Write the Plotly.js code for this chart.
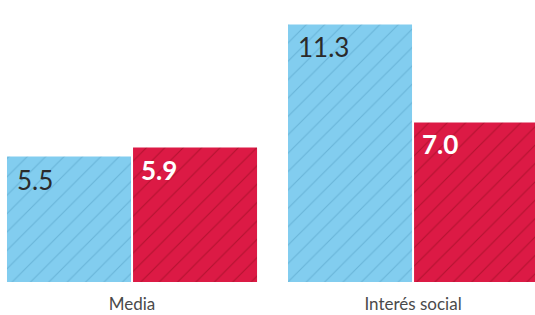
<!DOCTYPE html>
<html>
<head>
<meta charset="utf-8">
<script src="https://cdn.plot.ly/plotly-3.0.1.min.js"></script>
<style>html,body{margin:0;padding:0;background:#fff}#chart{width:535px;height:315px}</style>
</head>
<body>
<div id="chart"></div>
<script>
const categories = ["Media", "Interés social"];
const seriesA = [5.5, 11.3];
const seriesB = [5.9, 7.0];
const labelsA = ["5.5", "11.3"];
const labelsB = ["5.9", "7.0"];

const blue = "#82cdef", blueLine = "#68b4d8";
const red = "#dc1a45", redLine = "#b3122f";
const bargap = 0.103;
const groupW = 1 - bargap;

const traces = [
  {type: "bar", x: categories, y: seriesA, name: "A",
   marker: {color: blue, line: {width: 0},
     pattern: {shape: "/", fgcolor: blueLine, bgcolor: blue, size: 13, solidity: 0.08}},
   hoverinfo: "none"},
  {type: "bar", x: categories, y: seriesB, name: "B",
   marker: {color: red, line: {width: 0},
     pattern: {shape: "/", fgcolor: redLine, bgcolor: red, size: 13, solidity: 0.08}},
   hoverinfo: "none"}
];

const annotations = [];
categories.forEach((c, i) => {
  annotations.push({x: i - groupW / 2, y: seriesA[i], xref: "x", yref: "y",
    text: labelsA[i], showarrow: false, xanchor: "left", yanchor: "top",
    xshift: 9, yshift: -5,
    font: {family: "Lato, 'Open Sans', sans-serif", size: 26, weight: 400, color: "#2a2a2a"}});
  annotations.push({x: i, y: seriesB[i], xref: "x", yref: "y",
    text: labelsB[i], showarrow: false, xanchor: "left", yanchor: "top",
    xshift: 7, yshift: -4,
    font: {family: "Lato, 'Open Sans', sans-serif", size: 26, weight: 700, color: "#fff"}});
});

const layout = {
  width: 535, height: 315,
  margin: {l: 0, r: 0, t: 0, b: 33, pad: 0},
  paper_bgcolor: "#fff", plot_bgcolor: "#fff",
  barmode: "group", bargap: bargap, bargroupgap: 0.016,
  showlegend: false,
  xaxis: {type: "category", range: [-0.4698, 1.434], showgrid: false, zeroline: false,
    showline: false, ticks: "", ticklabelstandoff: 10,
    tickfont: {family: "Lato, 'Open Sans', sans-serif", size: 17, weight: 400, color: "#4a4a4a"}},
  yaxis: {range: [0, 12.37], showgrid: false, zeroline: false, showline: false,
    showticklabels: false, ticks: ""},
  annotations: annotations
};

Plotly.newPlot("chart", traces, layout, {staticPlot: true, displayModeBar: false});
</script>
</body>
</html>
